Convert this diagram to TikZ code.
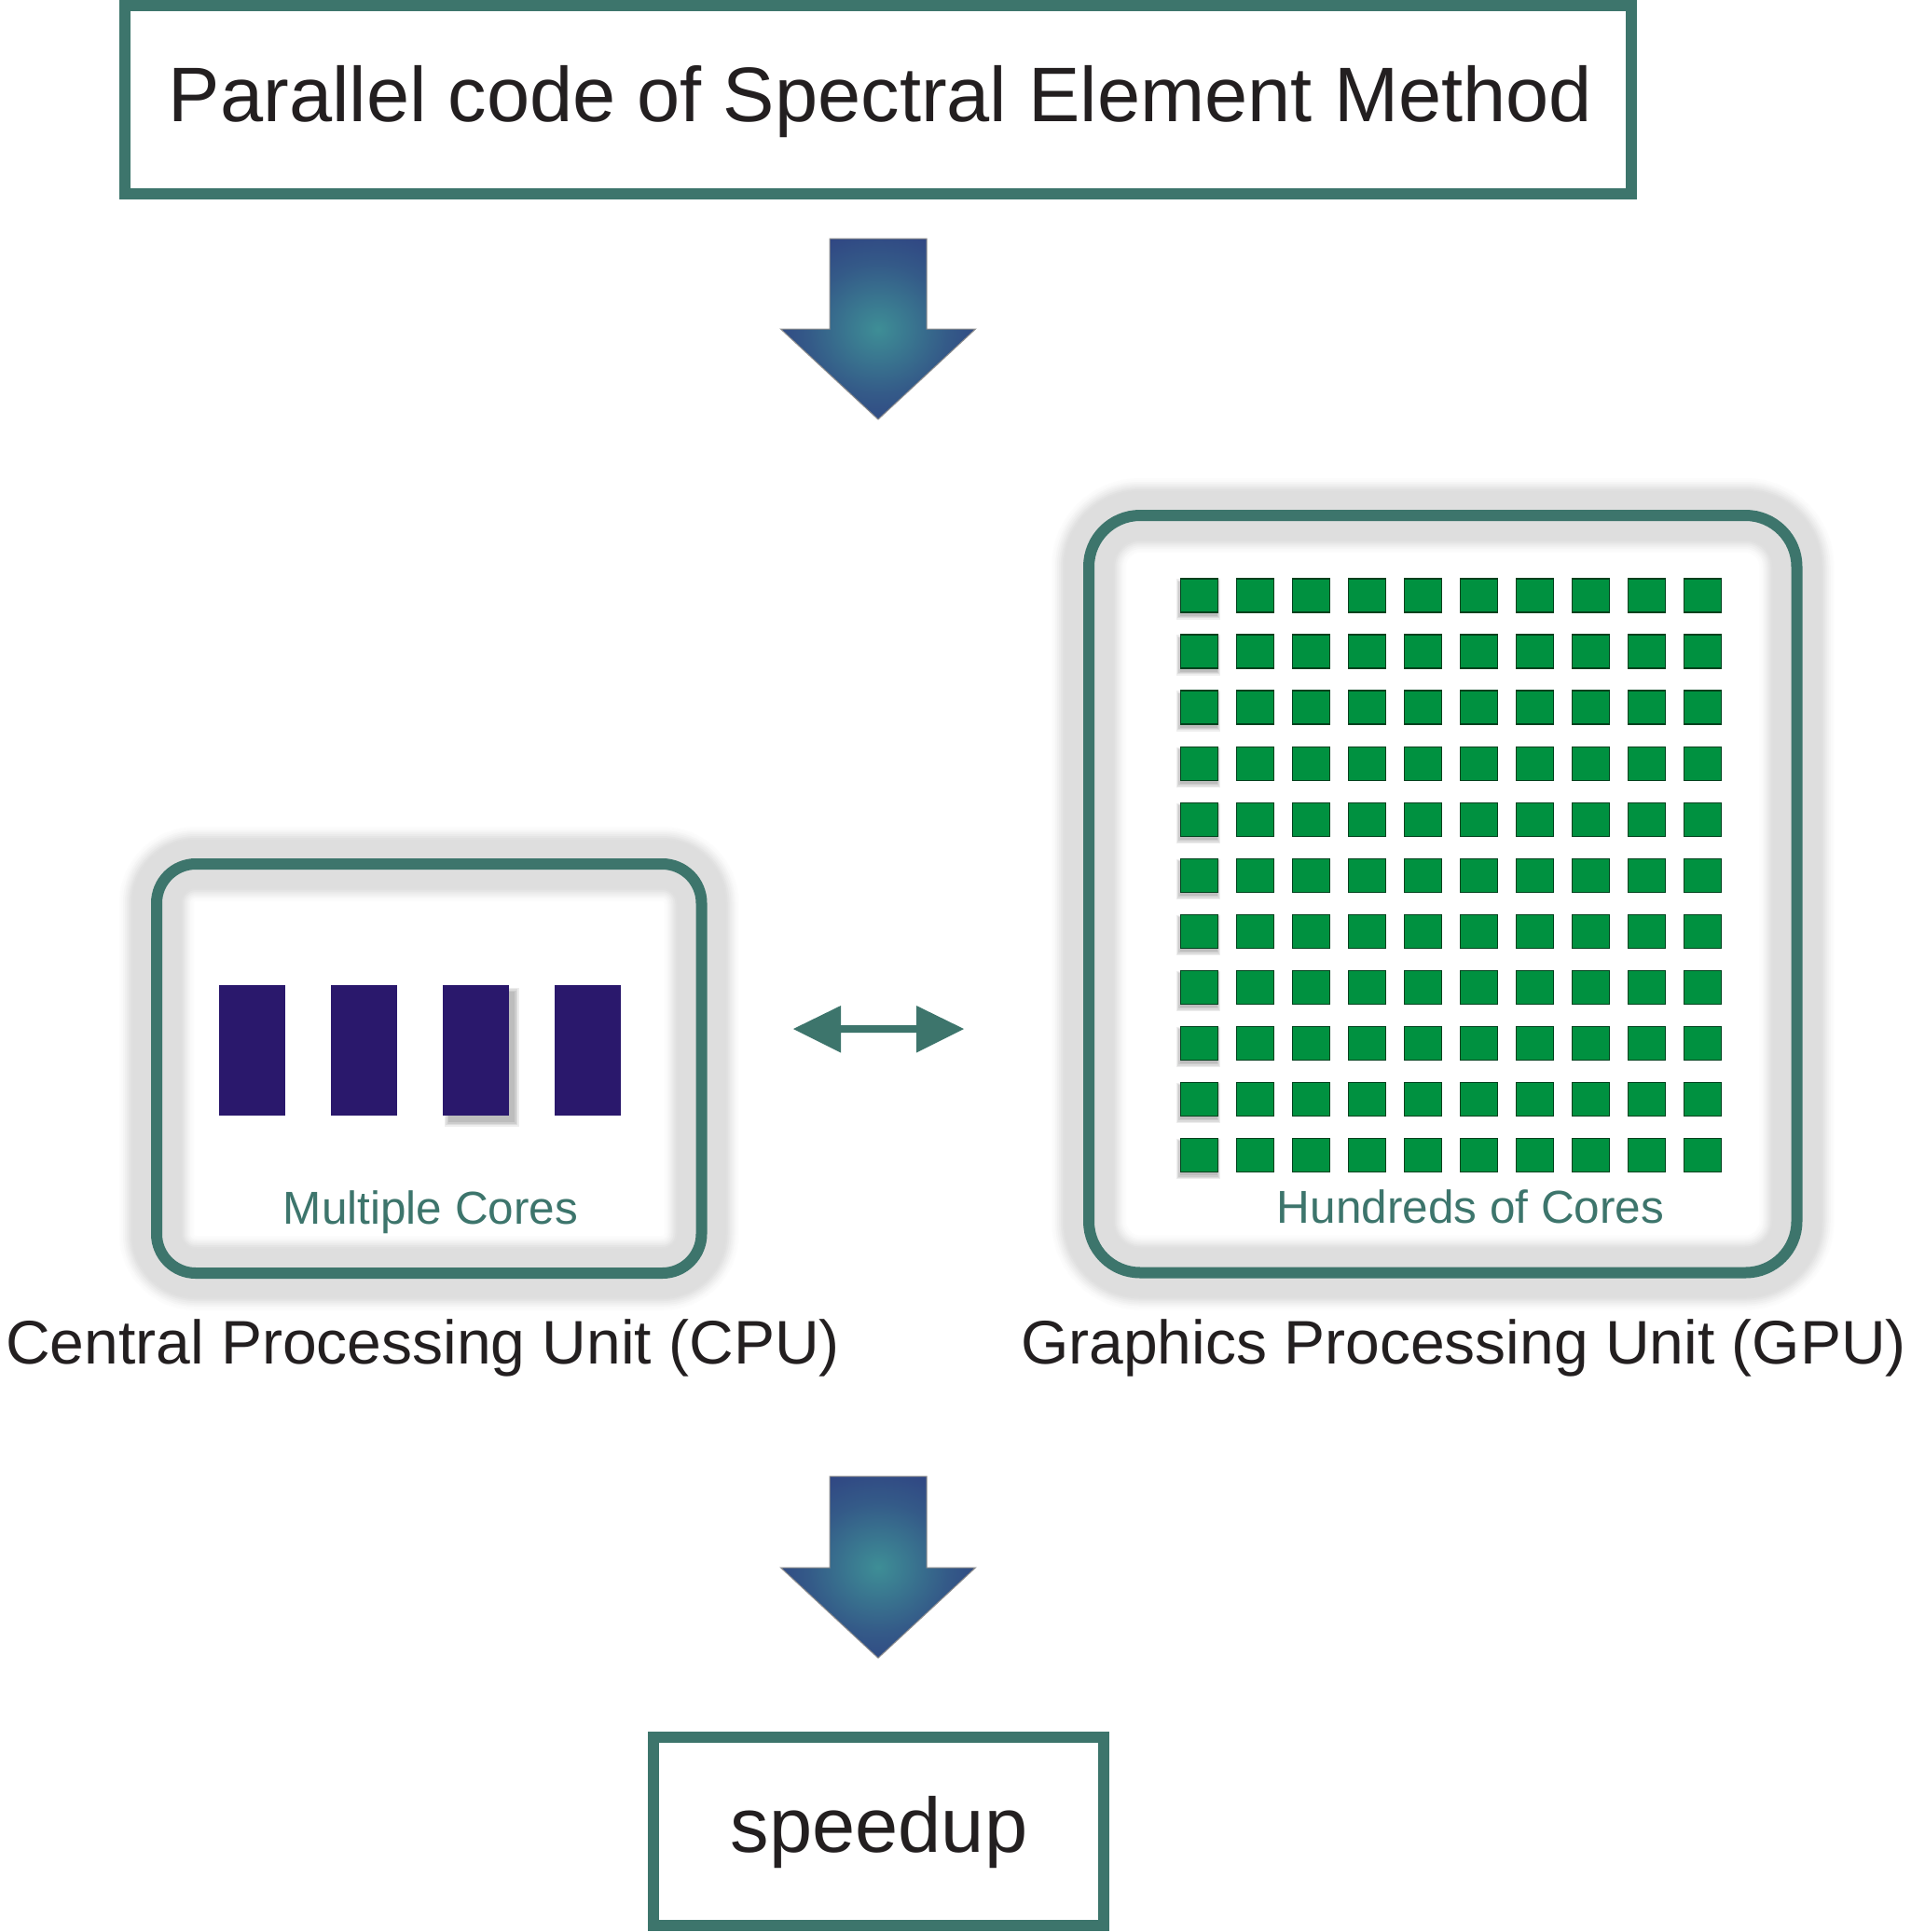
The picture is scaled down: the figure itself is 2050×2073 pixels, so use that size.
\documentclass[tikz,border=0pt]{standalone}
\usepackage{fontspec}
\setmainfont{Liberation Sans}
\usetikzlibrary{calc}
\definecolor{tealb}{RGB}{61,117,108}
\definecolor{coreblue}{RGB}{42,24,108}
\definecolor{coregreen}{RGB}{0,145,64}
\definecolor{txtc}{RGB}{35,31,32}
\definecolor{arrin}{RGB}{62,142,150}
\definecolor{arrmid}{RGB}{52,90,136}
\definecolor{arrout}{RGB}{44,50,126}
\pgfdeclareradialshading{arrowshade}{\pgfpointorigin}{color(0bp)=(arrin); color(18bp)=(arrmid); color(38bp)=(arrout); color(100bp)=(arrout)}
\tikzset{
  frame/.style={draw=tealb, line width=12, inner sep=0, outer sep=0},
  glow/.style={
    preaction={draw=black!1, line width=80},
    preaction={draw=black!2, line width=76},
    preaction={draw=black!4, line width=72},
    preaction={draw=black!6, line width=68},
    preaction={draw=black!8, line width=64},
    preaction={draw=black!10, line width=60},
    preaction={draw=black!12, line width=56},
    preaction={draw=black!13, line width=52}},
  bigtxt/.style={anchor=base, inner sep=0, text=txtc, font=\fontsize{83}{90}\selectfont},
  unittxt/.style={anchor=base, inner sep=0, text=txtc, font=\fontsize{66}{72}\selectfont},
  coretxt/.style={anchor=base, inner sep=0, text=tealb, font=\fontsize{49.5}{56}\selectfont},
  blockarrow/.style={shading=arrowshade, draw=black!45, line width=1},
  cpucore/.style={fill=coreblue},
  gpucore/.style={fill=coregreen, draw=black!55!coregreen, line width=1.2}
}
\begin{document}
\begin{tikzpicture}[x=1pt,y=-1pt]
\useasboundingbox (0,0) rectangle (2050,2073);
\fill[white] (0,0) rectangle (2050,2073);

% top box
\node[frame, minimum width=1616, minimum height=202] (top) at (942,107) {};
\node[bigtxt] (toptxt) at (944.5,130) {Parallel code of Spectral Element Method};

% arrow 1
\coordinate (a1) at (942,256);
\begin{scope}[shift={(a1)}]
\shadedraw[blockarrow] (-52,0) -- (52,0) -- (52,97) -- (104.5,97) -- (0,194) -- (-104.5,97) -- (-52,97) -- cycle;
\end{scope}

% CPU box
\node[frame, glow, rounded corners=42, minimum width=584.5, minimum height=439] (cpu) at (460.25,1146.5) {};
% shadow of third core
\foreach \k in {0,...,3}{
  \fill[black, opacity=0.07] ({475+6-\k*1.5},{1057+7-\k*1.5}) rectangle ({546+6+\k*1.5},{1197+7+\k*1.5});
}
\foreach \x in {235,355,475,595}{
  \fill[cpucore] (\x,1057) rectangle ++(71,140);
}
\node[coretxt] (cpulbl) at (462,1313) {Multiple Cores};
\node[unittxt] (cputxt) at (453.5,1463) {Central Processing Unit (CPU)};

% double arrow
\coordinate (dl) at (851,1104);
\coordinate (dr) at (1034,1104);
\fill[tealb] (dl) -- ++(51,-25) -- ++(0,21) -- ++(81,0) -- ++(0,-21) -- (dr) -- ++(-51,25.5) -- ++(0,-21.5) -- ++(-81,0) -- ++(0,21.5) -- cycle;

% GPU box
\node[frame, glow, rounded corners=55, minimum width=759.5, minimum height=812.5] (gpu) at (1547.75,959.25) {};
\foreach \j in {0,...,10}{
  \foreach \k in {0,...,3}{
    \fill[black, opacity=0.07] ({1266.5-1-\k*1.2},{621+60.03*\j+4-\k*1.2}) rectangle ({1306.5-1+\k*1.2},{657+60.03*\j+4+\k*1.2});
  }
  \foreach \i in {0,...,9}{
    \filldraw[gpucore] ({1266.5+60.0*\i},{621+60.03*\j}) rectangle ++(40,36);
  }
}
\node[coretxt] (gpulbl) at (1577.5,1312) {Hundreds of Cores};
\node[unittxt] (gputxt) at (1570,1463) {Graphics Processing Unit (GPU)};

% arrow 2
\coordinate (a2) at (942,1584);
\begin{scope}[shift={(a2)}]
\shadedraw[blockarrow] (-52,0) -- (52,0) -- (52,98) -- (104.5,98) -- (0,195) -- (-104.5,98) -- (-52,98) -- cycle;
\end{scope}

% speedup box
\node[frame, minimum width=483, minimum height=202.5] (spd) at (942.5,1964.75) {};
\node[bigtxt] (spdtxt) at (943,1987) {speedup};
\end{tikzpicture}
\end{document}
